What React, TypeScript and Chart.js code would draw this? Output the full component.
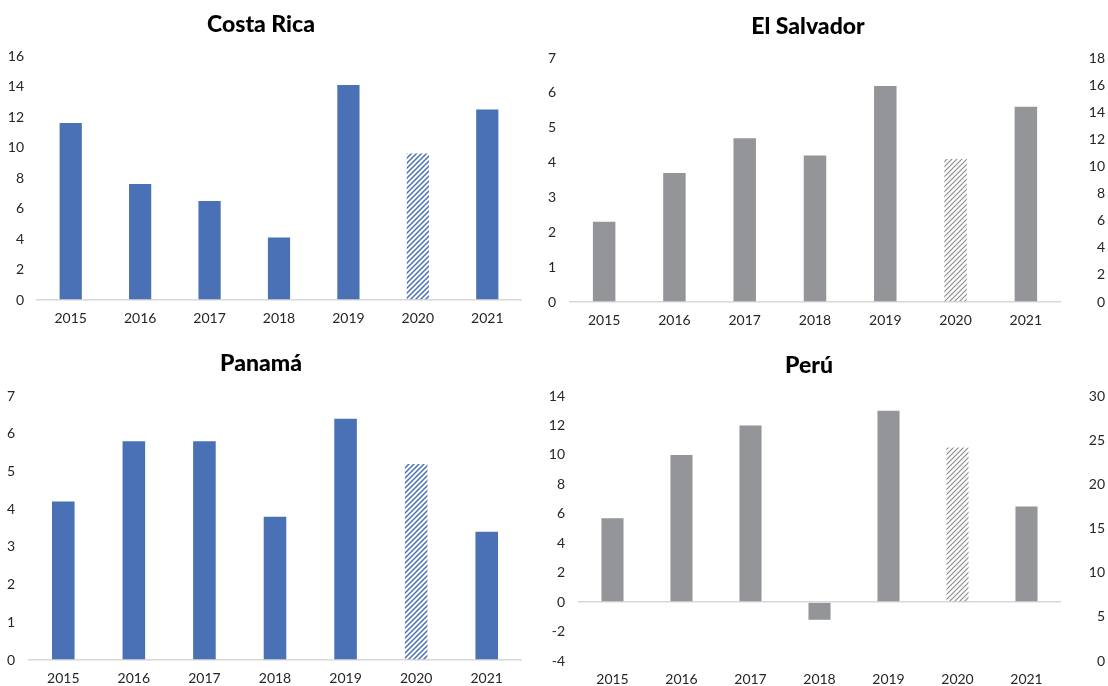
import React, { useEffect, useRef } from 'react';
import { Chart, registerables } from 'chart.js';

Chart.register(...registerables);

// ---- data ----
const years = ['2015', '2016', '2017', '2018', '2019', '2020', '2021'];
const hatchedYear = '2020';

const costaRicaValues = [11.6, 7.6, 6.5, 4.1, 14.1, 9.6, 12.5];
const elSalvadorValues = [2.3, 3.7, 4.7, 4.2, 6.2, 4.1, 5.6];
const panamaValues = [4.2, 5.8, 5.8, 3.8, 6.4, 5.2, 3.4];
const peruValues = [5.7, 10.0, 12.0, -1.2, 13.0, 10.5, 6.5];

const titles = ['Costa Rica', 'El Salvador', 'Panamá', 'Perú'];

const costaRicaAxis = { min: 0, max: 16, step: 2 };
const elSalvadorAxis = { min: 0, max: 7, step: 1 };
const elSalvadorRightAxis = { min: 0, max: 18, step: 2 };
const panamaAxis = { min: 0, max: 7, step: 1 };
const peruAxis = { min: -4, max: 14, step: 2 };
const peruRightAxis = { min: 0, max: 30, step: 5 };

// ---- styles ----
const BLUE = '#4a71b5';
const GRAY = '#939598';
const FONT = 'Lato, "Open Sans", sans-serif';
const TICK_COLOR = '#262626';
const TITLE_SIZE = 23;
const TITLE_LH = TITLE_SIZE * 1.2;

function makeHatch(color: string, lw: number): CanvasPattern | string {
  const c = document.createElement('canvas');
  c.width = 5;
  c.height = 5;
  const g = c.getContext('2d');
  if (!g) return color;
  g.strokeStyle = color;
  g.lineWidth = lw;
  g.lineCap = 'square';
  g.beginPath();
  g.moveTo(-1, 6);
  g.lineTo(6, -1);
  g.moveTo(-1, 1);
  g.lineTo(1, -1);
  g.moveTo(4, 6);
  g.lineTo(6, 4);
  g.stroke();
  const p = g.createPattern(c, 'repeat');
  return p || color;
}

type Panel = {
  title: string;
  values: number[];
  color: string;
  hatchColor: string;
  hatchWidth: number;
  axis: { min: number; max: number; step: number };
  right?: { min: number; max: number; step: number };
  left: number;
  top: number;
  width: number;
  height: number;
  yWidth: number;
  y1Width: number;
  xHeight: number;
  titleY: number;
  areaTop: number;
  tickPad: number;
};

const panels: Panel[] = [
  {
    title: titles[0], values: costaRicaValues, color: BLUE, hatchColor: BLUE, hatchWidth: 1.5,
    axis: costaRicaAxis,
    left: 0, top: 0, width: 522, height: 343, yWidth: 36, y1Width: 0, xHeight: 43,
    titleY: 25, areaTop: 56, tickPad: 12,
  },
  {
    title: titles[1], values: elSalvadorValues, color: GRAY, hatchColor: '#8a8a8c', hatchWidth: 1.1,
    axis: elSalvadorAxis, right: elSalvadorRightAxis,
    left: 511, top: 0, width: 594, height: 343, yWidth: 58, y1Width: 44, xHeight: 41,
    titleY: 27, areaTop: 58, tickPad: 13,
  },
  {
    title: titles[2], values: panamaValues, color: BLUE, hatchColor: BLUE, hatchWidth: 1.5,
    axis: panamaAxis,
    left: 0, top: 343, width: 522, height: 343, yWidth: 28, y1Width: 0, xHeight: 26,
    titleY: 21, areaTop: 53, tickPad: 13,
  },
  {
    title: titles[3], values: peruValues, color: GRAY, hatchColor: '#8a8a8c', hatchWidth: 1.1,
    axis: peruAxis, right: peruRightAxis,
    left: 513, top: 343, width: 592, height: 343, yWidth: 65, y1Width: 44, xHeight: 25,
    titleY: 23, areaTop: 53, tickPad: 13,
  },
];

function buildConfig(p: Panel): any {
  const hatch = makeHatch(p.hatchColor, p.hatchWidth);
  const tickFont = { family: FONT, size: 14 };
  const scales: any = {
    x: {
      grid: { display: false, drawTicks: false },
      border: { display: false },
      ticks: { font: tickFont, color: TICK_COLOR, padding: 10, maxRotation: 0 },
      afterFit: (s: any) => { s.height = p.xHeight; },
    },
    y: {
      position: 'left',
      min: p.axis.min,
      max: p.axis.max,
      z: 1,
      ticks: { stepSize: p.axis.step, font: tickFont, color: TICK_COLOR, padding: p.tickPad },
      grid: {
        drawTicks: false,
        lineWidth: 1.5,
        color: (c: any) => (c.tick && c.tick.value === 0 ? 'rgba(190,190,190,0.6)' : 'rgba(0,0,0,0)'),
      },
      border: { display: false },
      afterFit: (s: any) => { s.width = p.yWidth; },
    },
  };
  if (p.right) {
    scales.y1 = {
      position: 'right',
      min: p.right.min,
      max: p.right.max,
      ticks: { stepSize: p.right.step, font: tickFont, color: TICK_COLOR, padding: 0, crossAlign: 'far' },
      grid: { display: false, drawTicks: false },
      border: { display: false },
      afterFit: (s: any) => { s.width = p.y1Width; },
    };
  }
  return {
    type: 'bar',
    data: {
      labels: years,
      datasets: [
        {
          data: p.values,
          backgroundColor: years.map((y) => (y === hatchedYear ? hatch : p.color)),
          borderWidth: 0,
          barPercentage: 0.32,
          categoryPercentage: 1,
          yAxisID: 'y',
        },
      ],
    },
    options: {
      responsive: false,
      maintainAspectRatio: false,
      animation: false,
      devicePixelRatio: 1,
      layout: { padding: 0 },
      plugins: {
        legend: { display: false },
        tooltip: { enabled: false },
        title: {
          display: true,
          text: p.title,
          color: '#000000',
          font: { family: FONT, size: TITLE_SIZE, weight: '900', lineHeight: 1.2 },
          padding: {
            top: p.titleY - TITLE_LH / 2,
            bottom: p.areaTop - p.titleY - TITLE_LH / 2,
          },
        },
      },
      scales,
    },
  };
}

function ChartPanel({ panel }: { panel: Panel }) {
  const ref = useRef<HTMLCanvasElement | null>(null);
  useEffect(() => {
    if (!ref.current) return;
    const chart = new Chart(ref.current, buildConfig(panel));
    return () => chart.destroy();
  }, [panel]);
  return (
    <canvas
      ref={ref}
      width={panel.width}
      height={panel.height}
      style={{
        position: 'absolute',
        left: panel.left,
        top: panel.top,
        width: panel.width,
        height: panel.height,
      }}
    />
  );
}

export default function App() {
  return (
    <div
      style={{
        position: 'absolute',
        left: 0,
        top: 0,
        width: 1108,
        height: 686,
        background: '#ffffff',
        overflow: 'hidden',
      }}
    >
      {panels.map((p) => (
        <ChartPanel key={p.title} panel={p} />
      ))}
    </div>
  );
}
